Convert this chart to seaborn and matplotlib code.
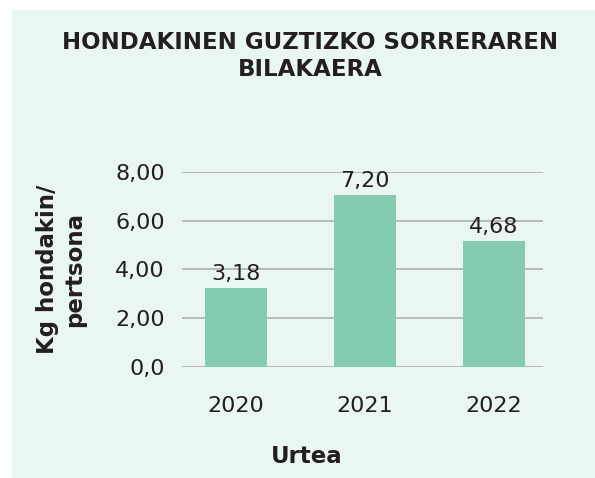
"""Total waste generation per person, 2020-2022.
"""
import matplotlib
matplotlib.use("Agg")
import matplotlib.pyplot as plt
import pandas as pd
import seaborn as sns
from matplotlib.patches import Rectangle

# Data
years = ["2020", "2021", "2022"]
bar_heights = [3.23, 7.04, 5.16]
bar_labels = ["3,18", "7,20", "4,68"]
y_ticks = [0, 2, 4, 6, 8]
y_tick_labels = ["0,0", "2,00", "4,00", "6,00", "8,00"]

df = pd.DataFrame({"Urtea": years, "kg": bar_heights})

BG = "#eaf6f1"
BAR = "#84cbaf"
TEXT = "#231f20"
GRID = "#a9aba9"

sns.set_theme(style="white")
plt.rcParams["font.family"] = ["DejaVu Sans"]

fig = plt.figure(figsize=(5.95, 4.78), dpi=100)
fig.set_facecolor("white")

# Mint panel behind the chart
fig.add_artist(Rectangle((12 / 595, 0), 1, 1 - 10 / 478, transform=fig.transFigure,
                         facecolor=BG, edgecolor="none", zorder=-10))

ax = fig.add_axes([181.7 / 595, 111 / 478, 361.3 / 595, 195.3 / 478])
ax.set_facecolor(BG)

sns.barplot(data=df, x="Urtea", y="kg", color=BAR, saturation=1, width=0.486,
            linewidth=0, ax=ax, zorder=3)

ax.bar_label(ax.containers[0], labels=bar_labels, padding=3, fontsize=16,
             color=TEXT, zorder=4)

ax.set_ylim(0, 8)
ax.set_xlim(-0.42, 2.38)
ax.set_yticks(y_ticks)
ax.set_yticklabels(y_tick_labels)
ax.yaxis.grid(True, color=GRID, linewidth=1.1, zorder=0)
ax.set_axisbelow(True)
for spine in ax.spines.values():
    spine.set_visible(False)
ax.tick_params(axis="both", length=0, labelsize=16, colors=TEXT)
ax.tick_params(axis="y", pad=12)
ax.tick_params(axis="x", pad=21)

ax.set_ylabel("Kg hondakin/\npertsona", fontsize=16.5, fontweight="bold",
              color=TEXT, linespacing=1.2)
ax.yaxis.set_label_coords(-0.265, 0.5)
ax.set_xlabel("Urtea", fontsize=16.5, fontweight="bold", color=TEXT)
ax.xaxis.set_label_coords(0.347, -0.40)

fig.text(310 / 595, 1 - 56 / 478, "HONDAKINEN GUZTIZKO SORRERAREN\nBILAKAERA",
         ha="center", va="center", fontsize=16.5, fontweight="bold",
         color=TEXT, linespacing=1.2)

fig.savefig("out.png", dpi=100, facecolor=fig.get_facecolor())
